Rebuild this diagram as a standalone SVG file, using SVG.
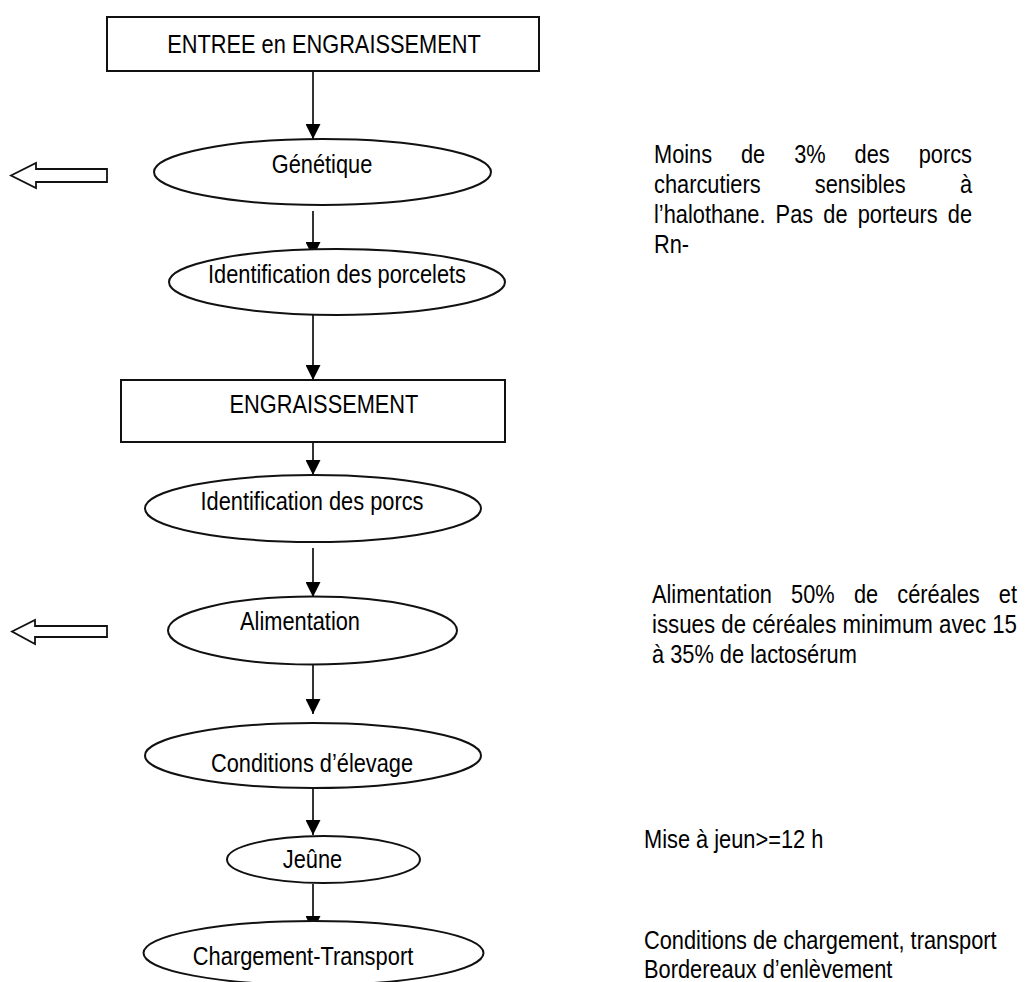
<svg xmlns="http://www.w3.org/2000/svg" width="1026" height="982" viewBox="0 0 1026 982">
<style>
.bg{fill:#fff}
.box{fill:#fff;stroke:#111;stroke-width:2}
.ell{fill:#fff;stroke:#111;stroke-width:2}
.con{fill:none;stroke:#000;stroke-width:1.6}
.hollow{fill:#fff;stroke:#111;stroke-width:1.8;stroke-linejoin:miter}
text{font-family:"Liberation Sans Narrow","Liberation Sans",Arial,sans-serif;font-size:25px;fill:#000}
.c{text-anchor:middle}
.e{text-anchor:end}
</style>
<defs>
<marker id="ah" markerWidth="15" markerHeight="15" refX="15" refY="7.5" orient="auto" markerUnits="userSpaceOnUse">
<path d="M0,0 L15,7.5 L0,15 z" fill="#000"/>
</marker>
</defs>
<rect class="bg" x="0" y="0" width="1026" height="982"/>

<g id="connectors">
<line class="con" x1="313" y1="71" x2="313" y2="139" marker-end="url(#ah)"/>
<line class="con" x1="313" y1="211" x2="313" y2="257" marker-end="url(#ah)"/>
<line class="con" x1="313" y1="315" x2="313" y2="380" marker-end="url(#ah)"/>
<line class="con" x1="313" y1="442" x2="313" y2="475" marker-end="url(#ah)"/>
<line class="con" x1="313" y1="548" x2="313" y2="597" marker-end="url(#ah)"/>
<line class="con" x1="313" y1="665" x2="313" y2="714" marker-end="url(#ah)"/>
<line class="con" x1="313" y1="788" x2="313" y2="835" marker-end="url(#ah)"/>
<line class="con" x1="313" y1="884" x2="313" y2="931" marker-end="url(#ah)"/>
</g>

<g id="node-entree">
<rect class="box" x="107" y="17" width="432" height="54"/>
<text class="c" x="324" y="53" textLength="313.6" lengthAdjust="spacingAndGlyphs">ENTREE en ENGRAISSEMENT</text>
</g>

<g id="node-genetique">
<ellipse class="ell" cx="322.5" cy="172" rx="168.5" ry="33"/>
<text class="c" x="322" y="173" textLength="100.6" lengthAdjust="spacingAndGlyphs">Génétique</text>
</g>

<g id="node-porcelets">
<ellipse class="ell" cx="337" cy="282" rx="168" ry="33"/>
<text class="c" x="337" y="283" textLength="258" lengthAdjust="spacingAndGlyphs">Identification des porcelets</text>
</g>

<g id="node-engraissement">
<rect class="box" x="121" y="380" width="384" height="62"/>
<text class="c" x="324" y="413" textLength="188.8" lengthAdjust="spacingAndGlyphs">ENGRAISSEMENT</text>
</g>

<g id="node-porcs">
<ellipse class="ell" cx="313" cy="508.5" rx="168" ry="33.5"/>
<text class="c" x="312" y="510" textLength="223" lengthAdjust="spacingAndGlyphs">Identification des porcs</text>
</g>

<g id="node-alimentation">
<ellipse class="ell" cx="312.5" cy="630.5" rx="144.5" ry="34"/>
<text class="c" x="300" y="630" textLength="120" lengthAdjust="spacingAndGlyphs">Alimentation</text>
</g>

<g id="node-conditions">
<ellipse class="ell" cx="313" cy="755.5" rx="168" ry="32.5"/>
<text class="c" x="312" y="772" textLength="202" lengthAdjust="spacingAndGlyphs">Conditions d’élevage</text>
</g>

<g id="node-jeune">
<ellipse class="ell" cx="323.5" cy="859.5" rx="96.5" ry="23.5"/>
<text class="c" x="312.5" y="868" textLength="59.4" lengthAdjust="spacingAndGlyphs">Jeûne</text>
</g>

<g id="node-chargement">
<ellipse class="ell" cx="313.5" cy="953" rx="170" ry="32"/>
<text class="c" x="303" y="965" textLength="220.5" lengthAdjust="spacingAndGlyphs">Chargement-Transport</text>
</g>

<g id="hollow-arrow-genetique">
<polygon class="hollow" points="11,175.5 36,163 36,169 107,169 107,182 36,182 36,188"/>
</g>
<g id="hollow-arrow-alimentation">
<polygon class="hollow" points="12,631.5 35,620 35,626 107,626 107,637 35,637 35,644"/>
</g>

<g id="note-genetique">
<text x="654" y="162.5" textLength="58.1" lengthAdjust="spacingAndGlyphs">Moins</text>
<text x="741" y="162.5" textLength="24.2" lengthAdjust="spacingAndGlyphs">de</text>
<text x="794.2" y="162.5" textLength="31.5" lengthAdjust="spacingAndGlyphs">3%</text>
<text x="854.6" y="162.5" textLength="35.1" lengthAdjust="spacingAndGlyphs">des</text>
<text x="918.7" y="162.5" textLength="53.3" lengthAdjust="spacingAndGlyphs">porcs</text>
<text x="654" y="192.8" textLength="106.6" lengthAdjust="spacingAndGlyphs">charcutiers</text>
<text x="814.8" y="192.8" textLength="90.9" lengthAdjust="spacingAndGlyphs">sensibles</text>
<text x="959.9" y="192.8" textLength="12.1" lengthAdjust="spacingAndGlyphs">à</text>
<text x="654" y="223.1" textLength="111.5" lengthAdjust="spacingAndGlyphs">l’halothane.</text>
<text x="775.6" y="223.1" textLength="37.6" lengthAdjust="spacingAndGlyphs">Pas</text>
<text x="823.3" y="223.1" textLength="24.2" lengthAdjust="spacingAndGlyphs">de</text>
<text x="857.7" y="223.1" textLength="80" lengthAdjust="spacingAndGlyphs">porteurs</text>
<text x="947.8" y="223.1" textLength="24.2" lengthAdjust="spacingAndGlyphs">de</text>
<text x="654" y="253.4" textLength="35.1" lengthAdjust="spacingAndGlyphs">Rn-</text>
</g>

<g id="note-alimentation">
<text x="652" y="603" textLength="119.9" lengthAdjust="spacingAndGlyphs">Alimentation</text>
<text x="791.1" y="603" textLength="43.6" lengthAdjust="spacingAndGlyphs">50%</text>
<text x="853.9" y="603" textLength="24.2" lengthAdjust="spacingAndGlyphs">de</text>
<text x="897.3" y="603" textLength="82.4" lengthAdjust="spacingAndGlyphs">céréales</text>
<text x="998.8" y="603" textLength="18.2" lengthAdjust="spacingAndGlyphs">et</text>
<text x="652" y="633" textLength="365" lengthAdjust="spacingAndGlyphs">issues de céréales minimum avec 15</text>
<text x="652" y="663" textLength="204.8" lengthAdjust="spacingAndGlyphs">à 35% de lactosérum</text>
</g>

<g id="note-jeune">
<text x="644" y="848" textLength="179.3" lengthAdjust="spacingAndGlyphs">Mise à jeun&gt;=12 h</text>
</g>

<g id="note-chargement">
<text x="644" y="949" textLength="352.6" lengthAdjust="spacingAndGlyphs">Conditions de chargement, transport</text>
<text x="644" y="978" textLength="248.4" lengthAdjust="spacingAndGlyphs">Bordereaux d’enlèvement</text>
</g>
</svg>
